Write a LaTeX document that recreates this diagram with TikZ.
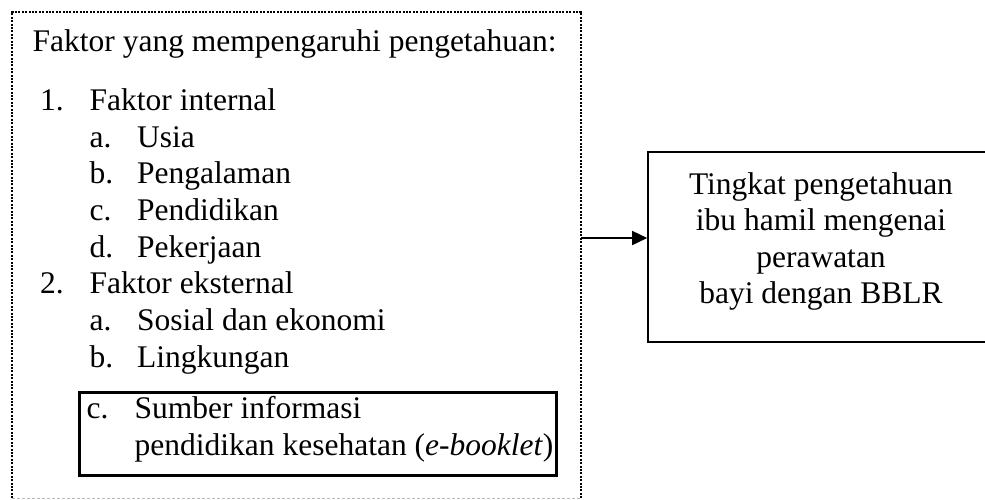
\documentclass[tikz,border=0pt]{standalone}
\usepackage{fontspec}
\setmainfont{Liberation Serif}
\usetikzlibrary{positioning,arrows.meta}

\begin{document}
\begin{tikzpicture}[
  x=1pt, y=-1pt,
  txt/.style={anchor=base west, inner sep=0pt, font=\fontsize{31.5}{36.6}\selectfont},
  dotframe/.style={draw=black, line width=2.4pt, dash pattern=on 2pt off 1.4pt},
  dotbottom/.style={draw=gray!55, line width=1.2pt, dash pattern=on 3pt off 2pt},
  infobox/.style={rectangle, draw=black, line width=3pt, inner sep=0pt},
  outbox/.style={rectangle, draw=black, line width=1.6pt, inner sep=0pt},
  link/.style={draw=black, line width=1.6pt, -{Triangle[length=15pt, width=14pt]}}
]
  \useasboundingbox (0,0) rectangle (985,499);

  % Frame of factors
  \node[minimum width=569pt, minimum height=486pt, inner sep=0pt] (frame) at (296.5,255) {};
  \draw[dotframe] (frame.south west) -- (frame.north west) -- (frame.north east) -- (frame.south east);
  \draw[dotbottom] (frame.south west) -- (frame.south east);

  % Factor list
  \node[txt] (title) at (32.5,51) {Faktor yang mempengaruhi pengetahuan:};
  \node[txt] (n1) at (40,110) {1.};
  \node[txt] (internal) at (89.5,110) {Faktor internal};
  \node[txt] (ia) at (89.5,147) {a.};
  \node[txt] (usia) at (137,147) {Usia};
  \node[txt] (ib) at (89.5,183) {b.};
  \node[txt] (pengalaman) at (137,183) {Pengalaman};
  \node[txt] (ic) at (89.5,220) {c.};
  \node[txt] (pendidikan) at (137,220) {Pendidikan};
  \node[txt] (id) at (89.5,257) {d.};
  \node[txt] (pekerjaan) at (137,257) {Pekerjaan};
  \node[txt] (n2) at (40,293) {2.};
  \node[txt] (eksternal) at (89.5,293) {Faktor eksternal};
  \node[txt] (ea) at (89.5,330) {a.};
  \node[txt] (sosial) at (137,330) {Sosial dan ekonomi};
  \node[txt] (eb) at (89.5,367) {b.};
  \node[txt] (lingkungan) at (137,367) {Lingkungan};

  % Information source
  \node[infobox, minimum width=477pt, minimum height=83pt] (info) at (317.5,433.5) {};
  \node[txt] (ec) at (86.5,418) {c.};
  \node[txt] (sumber) at (134.5,418) {Sumber informasi};
  \node[txt] (booklet) at (134.5,455) {pendidikan kesehatan (\textit{e-booklet})};

  % Outcome
  \node[outbox, minimum width=346pt, minimum height=190pt] (outcome) at (821,247) {};
  \node[anchor=north, inner sep=0pt, align=center, font=\fontsize{31.5}{36.6}\selectfont] (outtext) at (821,172)
    {Tingkat pengetahuan\\ibu hamil mengenai\\perawatan\\bayi dengan BBLR};

  \coordinate (arrowlevel) at (0,238);
  \draw[link] (frame.east |- arrowlevel) -- (outcome.west |- arrowlevel);
\end{tikzpicture}
\end{document}
